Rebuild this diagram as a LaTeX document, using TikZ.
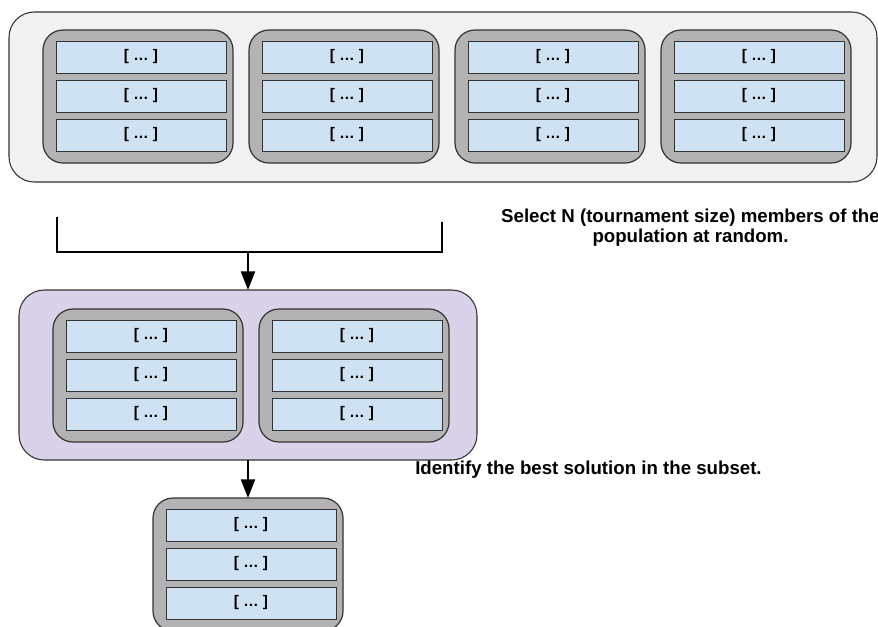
\documentclass[tikz,border=0pt]{standalone}
\usepackage{fontspec}
\setmainfont{Liberation Sans}
\usetikzlibrary{arrows.meta}
\definecolor{outerfill}{HTML}{F2F2F2}
\definecolor{grpfill}{HTML}{B3B3B3}
\definecolor{rowfill}{HTML}{CFE2F3}
\definecolor{purplefill}{HTML}{D9D2E9}
\definecolor{edgec}{HTML}{333333}
\newcommand\grp[3]{%
  \node[grpbox] (#1) at (#2,#3) {};
  \node[rowbox] (#1r1) at (#2+13,#3+11) {[ … ]};
  \node[rowbox] (#1r2) at (#2+13,#3+50) {[ … ]};
  \node[rowbox] (#1r3) at (#2+13,#3+89) {[ … ]};
}
\begin{document}
\begin{tikzpicture}[x=0.75pt,y=-0.75pt,
  bigbox/.style={draw=edgec, line width=0.8pt, anchor=north west, inner sep=0pt, outer sep=0pt, rounded corners=19pt},
  grpbox/.style={draw=edgec, fill=grpfill, line width=0.9pt, anchor=north west, inner sep=0pt, outer sep=0pt, rounded corners=15pt, minimum width=142.5pt, minimum height=99.75pt},
  rowbox/.style={draw=edgec, fill=rowfill, line width=0.75pt, anchor=north west, inner sep=0pt, outer sep=0pt, minimum width=127.5pt, minimum height=24pt, font=\bfseries\fontsize{11.5}{13}\selectfont},
  lbl/.style={font=\bfseries\fontsize{14}{15}\selectfont, align=center, inner sep=0pt},
  conn/.style={line width=1.5pt, draw=black},
  arr/.style={conn, -{Triangle[length=14pt,width=10.5pt]}}
]
\useasboundingbox (0,0) rectangle (878,626);
\clip (0,0) rectangle (878,626);
% population
\node[bigbox, fill=outerfill, minimum width=651pt, minimum height=127.5pt] (pop) at (9,12) {};
\grp{ga}{43}{30}
\grp{gb}{249}{30}
\grp{gc}{455}{30}
\grp{gd}{661}{30}
% bracket
\coordinate (bl) at (57,217);
\coordinate (br) at (442,222);
\coordinate (bj) at (248,252);
\draw[conn] (bl) |- (bj) -| (br);
% subset
\node[bigbox, fill=purplefill, minimum width=343.5pt, minimum height=127.5pt] (sub) at (19,290) {};
\grp{sa}{53}{309}
\grp{sb}{259}{309}
\draw[arr] (bj) -- (sub.north);
% best
\grp{best}{153}{498}
\draw[arr] (sub.south) -- (best.north);
% labels
\node[lbl] (seltxt) at (690.5,228) {Select N (tournament size) members of the\\population at random.};
\node[lbl, anchor=west] (idtxt) at (415,470) {Identify the best solution in the subset.};
\end{tikzpicture}
\end{document}
